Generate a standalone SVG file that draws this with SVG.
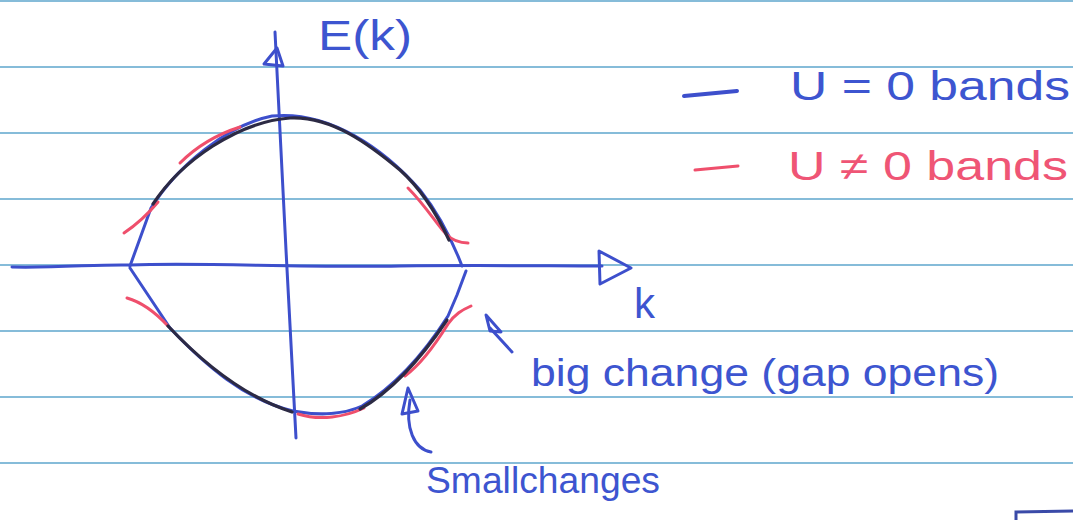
<svg xmlns="http://www.w3.org/2000/svg" width="1073" height="520" viewBox="0 0 1073 520">
<style>
.paper{stroke:#86bcd9;stroke-width:2.2;fill:none}
.blue{stroke:#3d4fcc;stroke-width:3;fill:none;stroke-linecap:round;stroke-linejoin:round}
.red{stroke:#ef4f6c;stroke-width:3;fill:none;stroke-linecap:round}
.black{stroke:#2c2a44;stroke-width:3.2;fill:none;stroke-linecap:round}
.tb{fill:#3d55d0;font-family:"Liberation Sans",Arial,sans-serif}
.tr{fill:#ef5575;font-family:"Liberation Sans",Arial,sans-serif}
</style>
<rect width="1073" height="520" fill="#ffffff"/>
<g id="paper">
<line class="paper" x1="0" y1="1" x2="1073" y2="1"/>
<line class="paper" x1="0" y1="67" x2="1073" y2="67"/>
<line class="paper" x1="0" y1="133" x2="1073" y2="133"/>
<line class="paper" x1="0" y1="199" x2="1073" y2="199"/>
<line class="paper" x1="0" y1="265" x2="1073" y2="265"/>
<line class="paper" x1="0" y1="331" x2="1073" y2="331"/>
<line class="paper" x1="0" y1="397" x2="1073" y2="397"/>
<line class="paper" x1="0" y1="463" x2="1073" y2="463"/>
<path d="M1016,520 L1016,512 L1073,511" stroke="#3a4aa8" stroke-width="3" fill="none"/>
</g>
<g id="axes">
<path class="blue" d="M12,267 C60,268 100,264 130,265 C200,262 300,268 400,266 C480,265 550,266 602,266"/>
<polygon class="blue" points="599,251 631,268 600,284"/>
<path class="blue" d="M296,438 L286,250 L275,32"/>
<polygon class="blue" points="264,64 283,66 277,48"/>
</g>
<g id="bands">
<path class="blue" d="M130,266 L151,208 C178,165 228,125 272,116 C330,110 385,150 420,190 C440,215 452,240 462,266"/>
<path class="blue" d="M130,268 L170,328 C205,365 245,400 293,411 C320,416 345,414 362,406 C395,386 425,352 448,316 L457,295 L466,271"/>
<path class="red" d="M124,233 C136,225 148,214 158,202"/>
<path class="red" d="M180,163 C195,148 215,135 240,127"/>
<path class="red" d="M408,188 C425,205 438,226 446,234 C453,241 460,243 468,243"/>
<path class="red" d="M127,298 C141,302 156,313 168,326"/>
<path class="red" d="M298,414 C320,421 345,417 364,408"/>
<path class="red" d="M405,376 C420,365 435,345 448,324 C455,314 462,310 471,306"/>
<path class="black" d="M153,204 C182,160 238,122 290,118 C332,116 370,145 400,170 C420,188 436,212 449,240"/>
<path class="black" d="M168,326 C200,360 242,396 292,412"/>
<path class="black" d="M360,409 C392,391 420,360 447,320"/>
</g>
<g id="annotations">
<path class="blue" d="M512,352 L490,328"/>
<polygon class="blue" points="486,315 501,332 490,331"/>
<path class="blue" d="M431,452 C414,449 405,428 410,400"/>
<polygon class="blue" points="408,388 402,414 418,411"/>
</g>
<g id="labels">
<text class="tb" x="318" y="50" font-size="42" textLength="94" lengthAdjust="spacingAndGlyphs">E(k)</text>
<text class="tb" x="634" y="318" font-size="42">k</text>
<line x1="684" y1="96" x2="737" y2="91" stroke="#3d4fcc" stroke-width="4" stroke-linecap="round"/>
<text class="tb" x="790" y="100" font-size="40" textLength="280" lengthAdjust="spacingAndGlyphs">U = 0  bands</text>
<line x1="695" y1="170" x2="738" y2="166" stroke="#ef4f6c" stroke-width="3" stroke-linecap="round"/>
<text class="tr" x="788" y="180" font-size="40" textLength="280" lengthAdjust="spacingAndGlyphs">U ≠ 0  bands</text>
<text class="tb" x="531" y="386" font-size="38" textLength="468" lengthAdjust="spacingAndGlyphs">big change (gap opens)</text>
<text class="tb" x="426" y="493" font-size="36" textLength="234" lengthAdjust="spacingAndGlyphs">Smallchanges</text>
</g>
</svg>
